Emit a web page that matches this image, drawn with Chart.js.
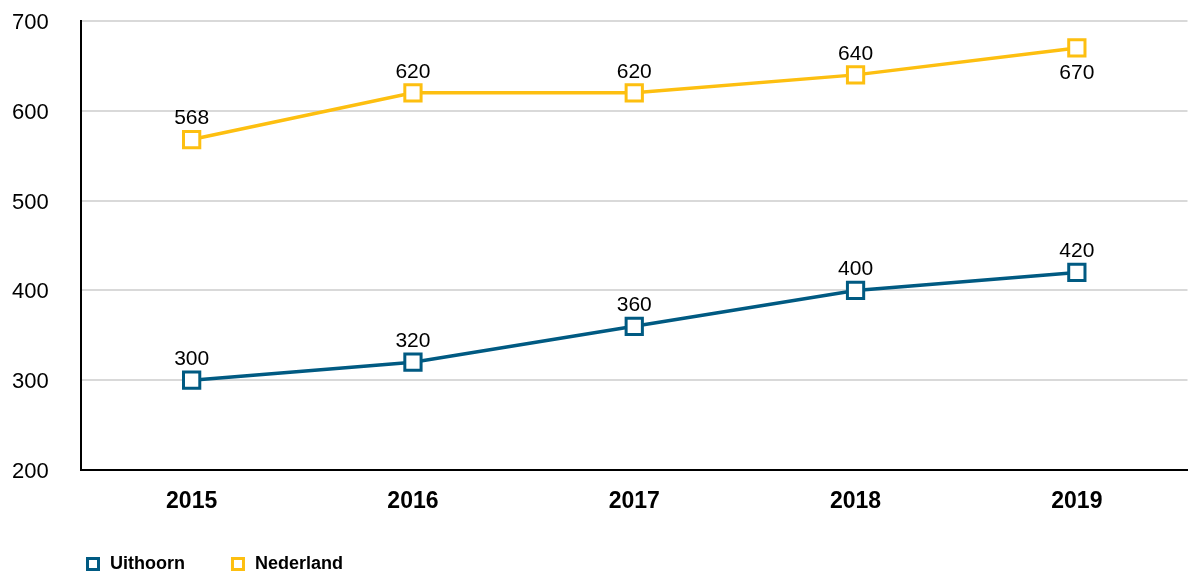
<!DOCTYPE html>
<html lang="nl">
<head>
<meta charset="UTF-8">
<title>Uithoorn en Nederland</title>
<script src="https://cdn.jsdelivr.net/npm/chart.js"></script>
<style>
    html, body { margin: 0; padding: 0; overflow: hidden; background: #fff; }
    #wrap { width: 1191px; height: 572px; overflow: hidden; }
    #chart { display: block; }
</style>
</head>
<body>
<div id="wrap"><canvas id="chart" width="1202" height="572"></canvas></div>
<script>
const jaren = ['2015', '2016', '2017', '2018', '2019'];
const uithoorn = [300, 320, 360, 400, 420];
const nederland = [568, 620, 620, 640, 670];

// labels die onder het punt staan i.p.v. erboven (dataset -> indexen)
const labelOnder = { 1: [4] };

const waardeLabels = {
    id: 'waardeLabels',
    afterDatasetsDraw(chart) {
        const ctx = chart.ctx;
        ctx.save();
        ctx.font = '21px Arial, "Liberation Sans", sans-serif';
        ctx.fillStyle = '#000';
        ctx.textAlign = 'center';
        ctx.textBaseline = 'middle';
        chart.data.datasets.forEach((ds, di) => {
            const meta = chart.getDatasetMeta(di);
            meta.data.forEach((pt, i) => {
                const onder = (labelOnder[di] || []).includes(i);
                const y = onder ? pt.y + 25 : pt.y - 21;
                ctx.fillText(String(ds.data[i]), pt.x, y);
            });
        });
        ctx.restore();
    }
};

// legenda iets naar rechts schuiven, zodat hij onder de as begint
const legendaInspringen = {
    id: 'legendaInspringen',
    afterLayout(chart) {
        if (chart.legend) {
            chart.legend.left = 40;
            chart.legend.right = chart.width;
        }
    }
};

const ctx = document.getElementById('chart').getContext('2d');
const chart = new Chart(ctx, {
    type: 'line',
    data: {
        labels: jaren,
        datasets: [
            {
                label: 'Uithoorn',
                data: uithoorn,
                borderColor: '#005a82',
                borderWidth: 3.5,
                pointStyle: 'rect',
                pointRadius: 11.5,
                pointBorderWidth: 3,
                pointBorderColor: '#005a82',
                pointBackgroundColor: '#fff',
                tension: 0
            },
            {
                label: 'Nederland',
                data: nederland,
                borderColor: '#fdbf10',
                borderWidth: 3.5,
                pointStyle: 'rect',
                pointRadius: 11.5,
                pointBorderWidth: 3,
                pointBorderColor: '#fdbf10',
                pointBackgroundColor: '#fff',
                tension: 0
            }
        ]
    },
    options: {
        responsive: false,
        devicePixelRatio: 1,
        animation: false,
        layout: { padding: { top: 21, left: 12, right: 0, bottom: -11 } },
        plugins: {
            legend: {
                position: 'bottom',
                align: 'start',
                labels: {
                    usePointStyle: true,
                    boxWidth: 16,
                    boxHeight: 11,
                    padding: 45,
                    color: '#000',
                    font: { family: 'Arial, "Liberation Sans", sans-serif', size: 18, weight: 'bold' }
                }
            },
            tooltip: { enabled: false }
        },
        scales: {
            x: {
                offset: true,
                grid: { display: false, drawTicks: false },
                border: { display: true, color: '#000', width: 2 },
                ticks: {
                    padding: 18,
                    color: '#000',
                    font: { family: 'Arial, "Liberation Sans", sans-serif', size: 23, weight: 'bold' }
                },
                afterFit(scale) {
                    scale.height = 40;
                    scale.paddingLeft = 0;
                    scale.paddingRight = 0;
                }
            },
            y: {
                min: 200,
                max: 700,
                grid: { color: '#d9d9d9', lineWidth: 2, drawTicks: false },
                border: { display: true, color: '#000', width: 2 },
                ticks: {
                    stepSize: 100,
                    padding: 0,
                    crossAlign: 'far',
                    labelOffset: 2,
                    color: '#000',
                    font: { family: 'Arial, "Liberation Sans", sans-serif', size: 22 }
                },
                afterFit(scale) { scale.width = 69; }
            }
        }
    },
    plugins: [waardeLabels, legendaInspringen]
});
</script>
</body>
</html>
